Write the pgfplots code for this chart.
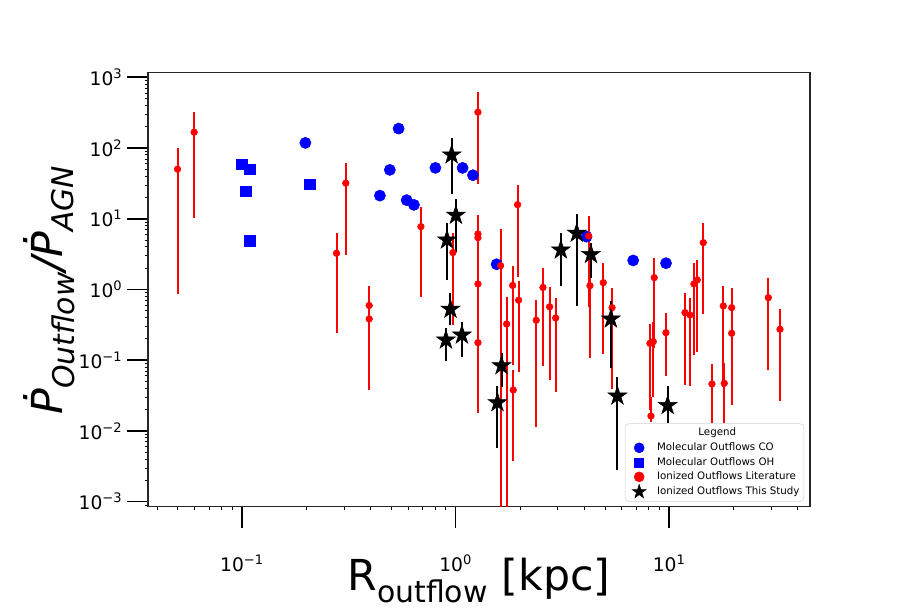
\documentclass[border=0pt]{standalone}
\usepackage{fontspec}
\setmainfont{DejaVu Sans}
\usepackage{pgfplots}
\pgfplotsset{compat=1.18}
\usepackage{pgfplotstable}

\pgfdeclareplotmark{fstar}{%
  \pgfpathmoveto{\pgfpointpolar{90}{\pgfplotmarksize}}%
  \pgfpathlineto{\pgfpointpolar{126}{0.382\pgfplotmarksize}}%
  \pgfpathlineto{\pgfpointpolar{162}{\pgfplotmarksize}}%
  \pgfpathlineto{\pgfpointpolar{198}{0.382\pgfplotmarksize}}%
  \pgfpathlineto{\pgfpointpolar{234}{\pgfplotmarksize}}%
  \pgfpathlineto{\pgfpointpolar{270}{0.382\pgfplotmarksize}}%
  \pgfpathlineto{\pgfpointpolar{306}{\pgfplotmarksize}}%
  \pgfpathlineto{\pgfpointpolar{342}{0.382\pgfplotmarksize}}%
  \pgfpathlineto{\pgfpointpolar{18}{\pgfplotmarksize}}%
  \pgfpathlineto{\pgfpointpolar{54}{0.382\pgfplotmarksize}}%
  \pgfpathclose
  \pgfusepathqfillstroke}

\pgfplotstableread{
x y
0.198 118
0.541 188
0.492 49
0.442 21.2
0.590 18.3
0.638 15.7
0.804 52.3
1.078 52.3
1.205 41.2
1.556 2.27
4.10 5.58
6.78 2.57
9.66 2.35
}\co

\pgfplotstableread{
x y
0.0996 59
0.109 50.1
0.104 24.5
0.109 4.85
0.208 30.8
}\oh

\pgfplotstableread{
x y lo hi
0.0499 50.1 0.864 99.4
0.0597 167 10.4 321
0.277 3.25 0.240 6.24
0.306 31.8 3.10 61.0
0.394 0.594 0.383 1.12
0.394 0.383 0.0379 0.594
0.688 7.73 0.776 14.7
1.272 321 31.4 615
0.971 3.32 0.315 6.24
1.272 6.10 5.40 11.2
1.272 5.40 1.196 6.10
1.272 1.196 0.177 5.40
1.272 0.177 0.0177 1.196
1.624 2.17 0.0001 7.10
1.95 15.8 1.52 30.1
1.849 1.14 0.0855 2.17
1.733 0.325 0.0001 0.791
1.972 0.704 0.0688 1.33
1.86 0.0379 0.00379 0.0727
2.384 0.367 0.01147 0.710
2.563 1.067 0.0828 2.03
2.755 0.569 0.0525 1.085
2.94 0.395 0.0355 0.751
4.19 5.71 0.571 10.96
4.254 1.13 0.106 3.62
4.91 1.248 0.121 2.35
5.40 0.553 0.0398 1.04
8.51 1.469 0.147 2.76
8.12 0.173 0.0198 0.325
8.42 0.183 0.030 0.350
8.21 0.01625 0.01336 0.030
9.65 0.245 0.0598 0.461
11.85 0.470 0.0446 0.901
12.5 0.436 0.0432 0.751
13.05 1.196 0.1185 2.35
13.52 1.363 0.132 2.61
14.43 4.59 0.450 8.81
15.85 0.0461 0.0128 0.0875
17.9 0.584 0.0422 1.12
18.1 0.0471 0.0129 0.0904
19.6 0.553 0.240 1.04
19.6 0.240 0.0232 0.553
29.1 0.766 0.0727 1.44
33.0 0.2735 0.0267 0.525
}\lit

\pgfplotstableread{
x y lo hi
0.958 79.9 22.4 137.6
1.003 11.2 3.39 19.1
0.911 5.01 1.36 8.64
0.946 0.525 0.315 0.892
0.901 0.193 0.096 0.288
1.07 0.227 0.112 0.344
1.64 0.0836 0.0414 0.125
1.57 0.0251 0.00568 0.0436
3.11 3.62 1.12 6.24
3.69 6.24 0.584 11.6
4.30 3.13 1.44 4.50
5.33 0.383 0.0768 0.695
5.72 0.0312 0.00284 0.0584
9.83 0.0229 0.0128 0.0428
}\study

\begin{document}
\begin{tikzpicture}
\begin{axis}[
  at={(0,0)}, anchor=south west,
  scale only axis, width=496.5pt, height=325.5pt,
  xmode=log, ymode=log,
  xmin=0.0363, xmax=45.6, ymin=8.5e-4, ymax=1160,
  axis line style={black!85, line width=0.9pt},
  tick pos=left, tick align=outside,
  major tick length=15.75pt, minor tick length=2.6pt,
  major tick style={black, line width=1.2pt},
  minor tick style={black, line width=0.6pt},
  xtick={0.1,1,10},
  xticklabels={10\textsuperscript{−1},10\textsuperscript{0},10\textsuperscript{1}},
  ytick={0.001,0.01,0.1,1,10,100,1000},
  yticklabels={10\textsuperscript{−3},10\textsuperscript{−2},10\textsuperscript{−1},10\textsuperscript{0},10\textsuperscript{1},10\textsuperscript{2},10\textsuperscript{3}},
  minor xtick={0.04,0.05,0.06,0.07,0.08,0.09,0.2,0.3,0.4,0.5,0.6,0.7,0.8,0.9,2,3,4,5,6,7,8,9,20,30,40},
  minor ytick={0.0009,0.002,0.003,0.004,0.005,0.006,0.007,0.008,0.009,0.02,0.03,0.04,0.05,0.06,0.07,0.08,0.09,0.2,0.3,0.4,0.5,0.6,0.7,0.8,0.9,2,3,4,5,6,7,8,9,20,30,40,50,60,70,80,90,200,300,400,500,600,700,800,900},
  tick label style={font=\fontsize{14}{16}\selectfont, black},
  xticklabel style={yshift=-17pt},
  xlabel={R\textsubscript{outflow} [kpc]},
  xlabel style={font=\fontsize{32}{38}\selectfont, at={(axis description cs:0.5,-0.1942)}, anchor=base},
  ylabel={\itshape Ṗ\textsubscript{Outflow}/Ṗ\textsubscript{AGN}},
  ylabel style={font=\fontsize{32}{38}\selectfont, at={(axis description cs:-0.1284,0.5)}, anchor=base},
  legend cell align=left,
  legend style={at={(0.991,0.0115)}, anchor=south east, draw=black!18, rounded corners=3pt, fill=white,
    font=\fontsize{7.7}{9}\selectfont, inner xsep=2pt, inner ysep=2pt, row sep=0.5pt,
    nodes={inner sep=1.2pt, text height=6pt, text depth=2pt},
    /tikz/every odd column/.append style={column sep=7pt}},
]
\addplot[only marks, mark=*, blue, mark size=4.2pt, forget plot] table[x=x,y=y] {\co};
\addplot[only marks, mark=square*, blue, mark size=4pt, forget plot] table[x=x,y=y] {\oh};
\addplot[only marks, mark=*, red, mark size=2.5pt, forget plot,
  error bars/.cd, y dir=both, y explicit, error mark=none,
  error bar style={red, line width=1.5pt}]
  table[x=x,y=y, y error plus expr=\thisrow{hi}-\thisrow{y}, y error minus expr=\thisrow{y}-\thisrow{lo}] {\lit};
\addplot[only marks, mark=fstar, black, mark size=7.5pt, forget plot,
  error bars/.cd, y dir=both, y explicit, error mark=none,
  error bar style={black, line width=1.5pt}]
  table[x=x,y=y, y error plus expr=\thisrow{hi}-\thisrow{y}, y error minus expr=\thisrow{y}-\thisrow{lo}] {\study};
\addlegendimage{legend image code/.code={}}
\addlegendentry{\hspace{31pt}Legend}
\addlegendimage{only marks, mark=*, blue, mark size=3.75pt}
\addlegendentry{Molecular Outflows CO}
\addlegendimage{only marks, mark=square*, blue, mark size=3.4pt}
\addlegendentry{Molecular Outflows OH}
\addlegendimage{only marks, mark=*, red, mark size=3.75pt}
\addlegendentry{Ionized Outflows Literature}
\addlegendimage{only marks, mark=fstar, black, mark size=5.5pt}
\addlegendentry{Ionized Outflows This Study}
\end{axis}
\pgfresetboundingbox
\path[use as bounding box] (-111pt,-79.75pt) rectangle (564pt,380pt);
\end{tikzpicture}
\end{document}
